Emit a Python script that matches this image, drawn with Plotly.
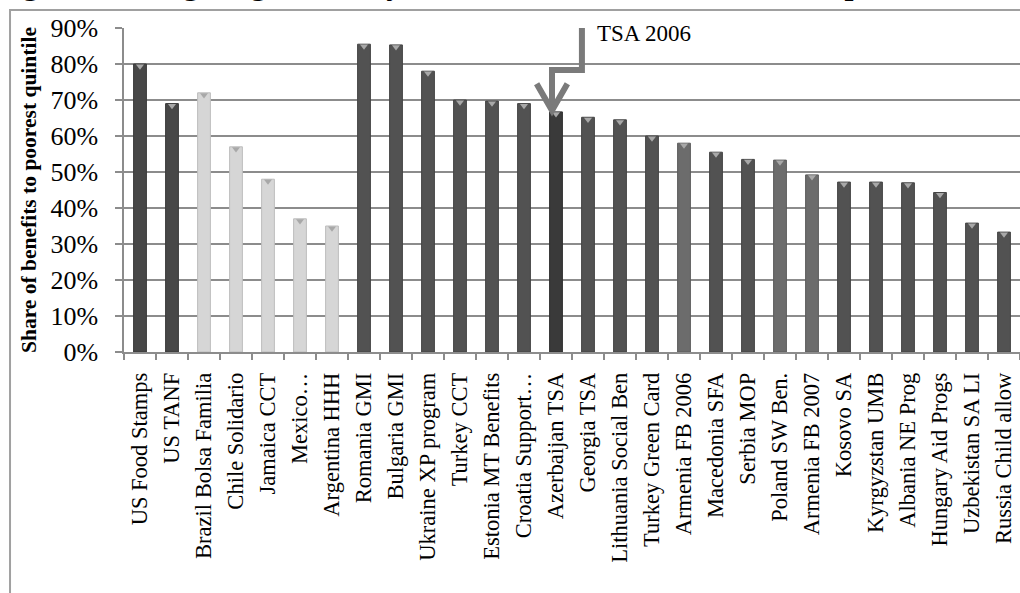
import plotly.graph_objects as go

programs = ["US Food Stamps", "US TANF", "Brazil Bolsa Familia", "Chile Solidario",
            "Jamaica CCT", "Mexico…", "Argentina HHH", "Romania GMI", "Bulgaria GMI",
            "Ukraine XP program", "Turkey CCT", "Estonia MT Benefits", "Croatia Support…",
            "Azerbaijan TSA", "Georgia TSA", "Lithuania Social Ben", "Turkey Green Card",
            "Armenia FB 2006", "Macedonia SFA", "Serbia MOP", "Poland SW Ben.",
            "Armenia FB 2007", "Kosovo SA", "Kyrgyzstan UMB", "Albania NE Prog",
            "Hungary Aid Progs", "Uzbekistan SA LI", "Russia Child allow"]
share = [0.80, 0.69, 0.72, 0.57, 0.48, 0.37, 0.35, 0.855, 0.853, 0.78, 0.70, 0.697,
         0.69, 0.667, 0.652, 0.645, 0.60, 0.58, 0.555, 0.535, 0.533, 0.492, 0.472,
         0.472, 0.470, 0.443, 0.358, 0.333]
group = ["us", "us", "latam", "latam", "latam", "latam", "latam", "eca", "eca", "eca",
         "eca", "eca", "eca", "aze", "eca", "eca", "eca", "lite", "eca", "eca", "lite",
         "lite", "eca", "eca", "eca", "eca", "eca", "eca"]
y_ticks = [0, 0.1, 0.2, 0.3, 0.4, 0.5, 0.6, 0.7, 0.8, 0.9]

palette = {"us": "#474747", "latam": "#d6d6d6", "eca": "#525252", "aze": "#3a3a3a",
           "lite": "#6c6c6c"}
edge = {"us": "#3a3a3a", "latam": "#bdbdbd", "eca": "#444444", "aze": "#2e2e2e",
        "lite": "#5c5c5c"}

SERIF = "Liberation Serif, Times New Roman, serif"
GRID = "#8c8c8c"

fig = go.Figure()
fig.add_trace(go.Bar(
    x=programs, y=share,
    marker=dict(color=[palette[g] for g in group],
                line=dict(color=[edge[g] for g in group], width=1)),
    width=0.4, showlegend=False, hoverinfo="x+y"))
fig.add_trace(go.Scatter(
    x=programs, y=[v - 0.006 for v in share], mode="markers",
    marker=dict(symbol="triangle-down", size=7, color="#a8a8a8"),
    showlegend=False, hoverinfo="skip"))

# bent arrow pointing at Azerbaijan TSA
i_aze = programs.index("Azerbaijan TSA")
v_aze = share[i_aze]
stem_x = i_aze - 0.125
top_x = i_aze + 0.81
fig.add_shape(type="path", xref="x", yref="y",
              path=f"M {top_x},0.915 L {top_x},0.783 L {stem_x},0.783 L {stem_x},{v_aze + 0.008}",
              line=dict(color="#7a7a7a", width=6))
fig.add_shape(type="path", xref="x", yref="y",
              path=f"M {stem_x - 0.48},0.745 L {stem_x},{v_aze + 0.004} L {stem_x + 0.48},0.745",
              line=dict(color="#7a7a7a", width=6))
fig.add_annotation(x=i_aze + 1.22, y=0.886, xref="x", yref="y", text="TSA 2006",
                   showarrow=False, xanchor="left", yanchor="middle",
                   font=dict(family=SERIF, size=23, color="black"))

# title, clipped at top as in the source
fig.add_annotation(x=-0.147, y=1.076, xref="paper", yref="paper",
                   text="<b>Figure 3:  Targeting Accuracy of TSA in an International Comparison</b>",
                   showarrow=False, xanchor="left", yanchor="bottom",
                   font=dict(family=SERIF, size=32, color="black"))

# outer frame
fig.add_shape(type="rect", xref="paper", yref="paper", x0=-0.1272, y0=-0.8,
              x1=1.05, y1=1.0556, line=dict(color="#a0a0a0", width=2),
              fillcolor="rgba(0,0,0,0)", layer="below")

fig.update_layout(
    width=1020, height=593,
    margin=dict(l=124, r=0, t=28, b=241),
    paper_bgcolor="white", plot_bgcolor="white",
    font=dict(family=SERIF, color="black"),
    bargap=0.6,
    xaxis=dict(type="category", showline=True, linecolor=GRID, linewidth=1.5,
               ticks="outside", tickson="boundaries", ticklen=6, tickcolor=GRID,
               tickwidth=1.5, tickangle=-90, tickfont=dict(family=SERIF, size=22.5),
               ticklabelstandoff=10,
               showgrid=False, range=[-0.5, len(programs) - 0.5]),
    yaxis=dict(range=[0, 0.9], tickvals=y_ticks, tickformat=".0%",
               showgrid=True, gridcolor=GRID, gridwidth=1.5,
               showline=True, linecolor=GRID, linewidth=1.5,
               ticks="outside", ticklen=7, tickcolor=GRID, tickwidth=1.5,
               tickfont=dict(family=SERIF, size=26), zeroline=False,
               ticklabelstandoff=12,
               title=dict(text="<b>Share of benefits to poorest quintile</b>",
                          font=dict(family=SERIF, size=21.5), standoff=8)),
)

fig.write_html("out.html", config={"displayModeBar": False},
               post_script="document.body.style.margin='0px';")
